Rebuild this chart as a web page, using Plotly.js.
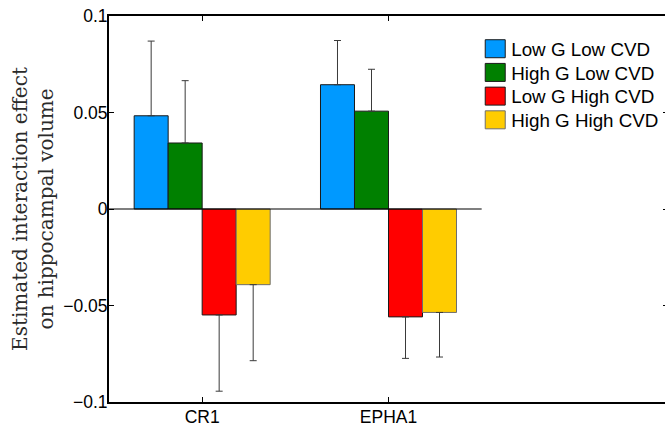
<!DOCTYPE html>
<html><head><meta charset="utf-8">
<script src="https://cdn.plot.ly/plotly-3.0.1.min.js"></script>
<style>html,body{margin:0;padding:0;overflow:hidden;width:665px;height:425px;background:#fff}#chart{width:680px;height:425px}</style>
</head><body><div id="chart"></div><script>
const categories = ['CR1', 'EPHA1'];
const seriesNames = ['Low G Low CVD', 'High G Low CVD', 'Low G High CVD', 'High G High CVD'];
const lowGLowCVD   = [0.0483, 0.0644];
const highGLowCVD  = [0.0342, 0.0507];
const lowGHighCVD  = [-0.0549, -0.0559];
const highGHighCVD = [-0.0392, -0.0536];
const errLowGLowCVD   = [0.0387, 0.0229];
const errHighGLowCVD  = [0.0323, 0.0217];
const errLowGHighCVD  = [0.0395, 0.0215];
const errHighGHighCVD = [0.0394, 0.0231];
const yTickVals = [-0.1, -0.05, 0, 0.05, 0.1];
const yTickText = ['\u22120.1', '\u22120.05', '0', '0.05', '0.1'];

const seriesValues = [lowGLowCVD, highGLowCVD, lowGHighCVD, highGHighCVD];
const seriesErrors = [errLowGLowCVD, errHighGLowCVD, errLowGHighCVD, errHighGHighCVD];
const colors = ['#0099ff', '#008000', '#ff0000', '#ffcc00'];
const edgeColors = ['#1a1a1a', '#1a1a1a', '#1a1a1a', '#6e6e6e'];
const xPos = categories.map((c, i) => i + 1);
const legendIds = ['legend', 'legend2', 'legend3', 'legend4'];

const traces = seriesNames.map((name, s) => {
  const vals = seriesValues[s], errs = seriesErrors[s];
  return {
    type: 'bar', name: name, x: xPos, y: vals, legend: legendIds[s],
    marker: {color: colors[s], line: {color: edgeColors[s], width: 1}},
    error_y: {
      type: 'data', symmetric: false,
      array: vals.map((v, i) => v >= 0 ? errs[i] : 0),
      arrayminus: vals.map((v, i) => v < 0 ? errs[i] : 0),
      color: '#3a3a3a', thickness: 1, width: 3.5
    },
    hoverinfo: 'skip'
  };
});

const tickFont = {family: 'Liberation Sans, Arial, sans-serif', size: 17.5, color: '#000'};
const legendFont = {family: 'Liberation Sans, Arial, sans-serif', size: 18.8, color: '#000'};
const plotTop = 16, plotH = 386, legendFirstRow = 49, legendRowGap = 23.7;

const layout = {
  width: 680, height: 425,
  margin: {l: 109, r: 12, t: plotTop, b: 425 - plotTop - plotH},
  paper_bgcolor: '#fff', plot_bgcolor: '#fff',
  barmode: 'group', bargap: 0.27, bargroupgap: 0,
  showlegend: true,
  xaxis: {range: [0.5, 3.5], tickvals: xPos, ticktext: categories,
          ticks: 'inside', ticklen: 5, tickwidth: 1, tickcolor: '#000',
          showline: true, linecolor: '#000', linewidth: 2, mirror: 'ticks',
          showgrid: false, zeroline: false, tickfont: tickFont, ticklabelstandoff: -2},
  yaxis: {range: [-0.1, 0.1], tickvals: yTickVals, ticktext: yTickText,
          ticks: 'inside', ticklen: 5, tickwidth: 1, tickcolor: '#000',
          showline: true, linecolor: '#000', linewidth: 2, mirror: 'ticks',
          showgrid: false, zeroline: false, tickfont: tickFont, ticklabelstandoff: -4,
          title: {text: 'Estimated interaction effect<br>on hippocampal volume',
                  font: {family: 'DejaVu Serif, serif', size: 20, color: '#2a2a2a'}, standoff: 4}},
  shapes: [{type: 'line', xref: 'x', yref: 'y', x0: 0.5, x1: categories.length + 0.5, y0: 0, y1: 0,
            line: {color: '#000', width: 1.2}, layer: 'above'}]
};
legendIds.forEach((id, k) => {
  layout[id] = {x: 0.648, xanchor: 'left', yanchor: 'middle',
                y: 1 - (legendFirstRow + k * legendRowGap - plotTop) / plotH,
                font: legendFont, bgcolor: 'rgba(0,0,0,0)', borderwidth: 0};
});

Plotly.newPlot('chart', traces, layout, {staticPlot: true, displayModeBar: false}).then(gd => {
  gd.querySelectorAll('.legendpoints path').forEach(p => p.setAttribute('d', 'M14,9H-6V-9H14Z'));
});
</script></body></html>
